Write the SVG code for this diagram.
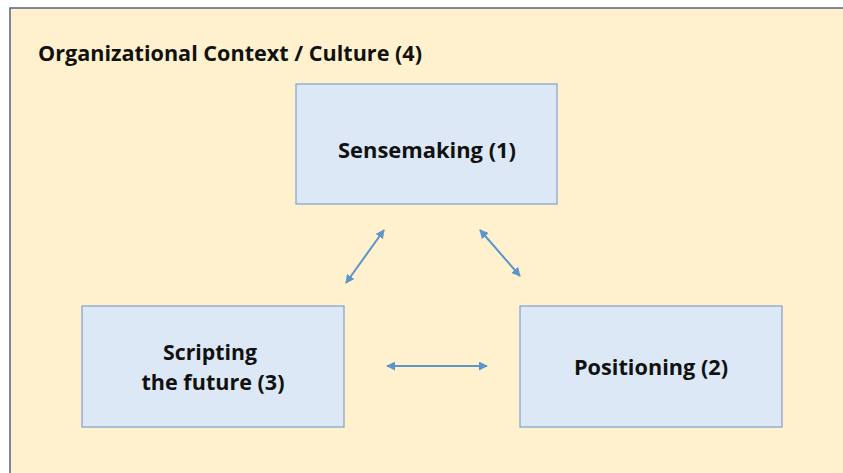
<svg xmlns="http://www.w3.org/2000/svg" width="843" height="473" viewBox="0 0 843 473">
<style>
.node rect{fill:#dce8f5;stroke:#87a7cc;stroke-width:1.3}
text{font-family:"Open Sans","Liberation Sans",sans-serif;font-weight:bold;fill:#111;font-size:21px}
.c{text-anchor:middle}
.conn line{stroke:#5b95cc;stroke-width:2}
</style>
<defs>
<marker id="ah" viewBox="0 0 10 10" refX="9" refY="5" markerWidth="4.5" markerHeight="4.5" orient="auto-start-reverse" markerUnits="strokeWidth">
<path d="M0,0 L10,5 L0,10 z" fill="#5b95cc"/>
</marker>
</defs>
<rect width="843" height="473" fill="#ffffff"/>
<g id="context">
<rect x="10" y="8" width="845" height="475" fill="#fff1cd" stroke="#4f6489" stroke-width="1.5"/>
<text x="38" y="61" textLength="384" lengthAdjust="spacingAndGlyphs">Organizational Context / Culture (4)</text>
</g>
<g id="sensemaking" class="node">
<rect x="296" y="84" width="261" height="120"/>
<text class="c" x="427" y="158" textLength="178" lengthAdjust="spacingAndGlyphs">Sensemaking (1)</text>
</g>
<g id="scripting" class="node">
<rect x="82" y="306" width="262" height="121"/>
<text class="c" x="210" y="360" textLength="94" lengthAdjust="spacingAndGlyphs">Scripting</text>
<text class="c" x="213" y="390" textLength="143" lengthAdjust="spacingAndGlyphs">the future (3)</text>
</g>
<g id="positioning" class="node">
<rect x="520" y="306" width="262" height="121"/>
<text class="c" x="651" y="375" textLength="154" lengthAdjust="spacingAndGlyphs">Positioning (2)</text>
</g>
<g class="conn" id="connectors">
<line x1="346" y1="283" x2="384" y2="230" marker-start="url(#ah)" marker-end="url(#ah)"/>
<line x1="480" y1="230" x2="520" y2="276" marker-start="url(#ah)" marker-end="url(#ah)"/>
<line x1="387" y1="366" x2="487" y2="366" marker-start="url(#ah)" marker-end="url(#ah)"/>
</g>
</svg>
